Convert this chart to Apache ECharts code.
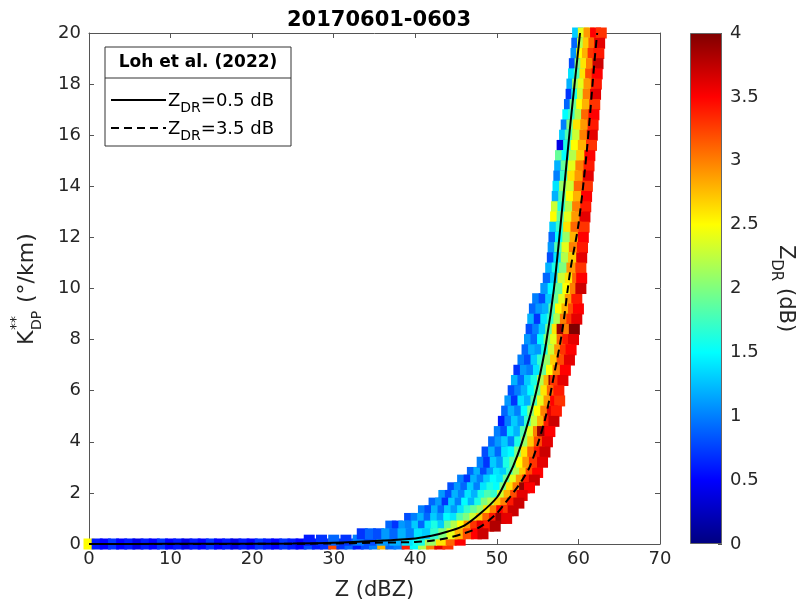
<!DOCTYPE html>
<html><head><meta charset="utf-8">
<script src="https://cdn.jsdelivr.net/npm/echarts@6/dist/echarts.min.js"></script>
<style>html,body{margin:0;padding:0;background:#fff}#c{width:799px;height:605px}</style>
</head><body><div id="c"></div>
<script>
// ---- data ----
const chartTitle = '20170601-0603';
const xTickStep = 10, xMax = 70;
const yTickStep = 2, yMax = 20;
const cbarMax = 4, cbarStep = 0.5;

// Loh et al. (2022) curves
const solidZ = [0,10,20,25,30,35,40,42,44,46,48,50,51,52,53,54,55,56,57,58,59,60.2];
const solidK = [0,0.005,0.01,0.02,0.05,0.12,0.22,0.32,0.49,0.72,1.2,1.82,2.4,3.05,3.9,4.95,6.2,7.8,10.0,13.1,16.4,20];
const dashedZ = [0,10,20,30,35,40,42,44,46,48,50,51,52,53,54,55,56,57,58,59,60,61,62,62.3];
const dashedK = [0,0,0.005,0.02,0.05,0.08,0.13,0.24,0.42,0.68,1.2,1.6,2.0,2.45,3.0,3.9,5.0,6.6,8.3,10.7,12.5,15.3,19.0,20];

// scatter rows: [Kdp, [[Z, Zdr], ...]]
const rowsTop = [
 [20.0,[[59.9,1.3],[60.6,2.4],[61.3,2.9],[62.1,3.5],[62.8,3.3]]],
 [19.6,[[59.8,0.9],[60.5,2.2],[61.2,2.7],[61.9,3.1],[62.6,3.6]]],
 [19.2,[[59.7,1.1],[60.4,2.5],[61.1,2.8],[61.8,3.3],[62.5,3.4]]],
 [18.8,[[59.5,0.8],[60.2,2.0],[60.9,2.6],[61.6,3.0],[62.4,3.7]]],
 [18.4,[[59.4,1.4],[60.1,1.8],[60.8,2.6],[61.5,3.2],[62.3,3.5]]],
 [18.0,[[59.2,1.2],[59.9,2.1],[60.6,2.4],[61.3,2.9],[62.2,3.4]]],
 [17.6,[[59.1,0.7],[59.8,1.6],[60.5,2.3],[61.2,3.0],[62.1,3.6]]],
 [17.2,[[58.9,0.9],[59.6,1.9],[60.4,2.5],[61.1,2.8],[62.0,3.3]]],
 [16.8,[[58.7,1.5],[59.4,1.7],[60.2,2.2],[61.0,3.1],[61.9,3.5]]],
 [16.4,[[58.5,1.0],[59.2,2.0],[60.0,2.6],[60.9,2.9],[61.8,3.4]]],
 [16.0,[[58.3,1.3],[59.0,1.8],[59.9,2.3],[60.8,3.0],[61.7,3.6]]],
 [15.6,[[58.0,0.4],[58.8,1.6],[59.7,2.5],[60.6,2.8],[61.6,3.3]]],
 [15.2,[[57.8,1.9],[58.6,1.5],[59.5,2.2],[60.4,2.7],[61.4,3.5]]],
 [14.8,[[57.7,1.2],[58.5,1.9],[59.4,2.4],[60.3,3.0],[61.3,3.4]]],
 [14.4,[[57.6,1.0],[58.4,1.7],[59.3,2.6],[60.2,2.9],[61.2,3.6]]],
 [14.0,[[57.5,1.4],[58.3,2.1],[59.2,2.3],[60.1,3.1],[61.1,3.3]]],
 [13.6,[[57.4,1.2],[58.2,1.8],[59.1,2.5],[60.0,2.8],[61.0,3.5]]],
 [13.2,[[57.3,2.3],[58.1,1.6],[59.0,2.2],[59.9,3.0],[60.9,3.4]]],
 [12.8,[[57.2,2.5],[58.0,1.9],[58.9,2.4],[59.8,2.9],[60.8,3.6]]],
 [12.4,[[57.1,1.3],[57.9,1.7],[58.8,2.6],[59.7,3.1],[60.7,3.3]]],
 [12.0,[[57.0,0.9],[57.8,1.5],[58.7,2.1],[59.6,2.8],[60.6,3.5]]],
 [11.6,[[56.9,1.1],[57.7,1.8],[58.6,2.4],[59.5,3.0],[60.5,3.4]]],
 [11.2,[[56.8,0.8],[57.6,1.4],[58.5,2.2],[59.4,2.7],[60.4,3.6]]],
 [10.8,[[56.6,1.2],[57.4,1.6],[58.3,2.0],[59.2,2.9],[60.3,3.3]]],
 [10.4,[[56.3,0.9],[57.2,1.3],[58.1,2.3],[59.0,2.6],[59.9,3.1],[60.4,3.5]]],
 [10.0,[[56.0,1.1],[56.9,1.5],[57.8,1.9],[58.7,2.5],[59.6,3.0],[60.3,3.7]]]
];
const rowsMid = [
 [9.6,[[55.0,1.0],[55.8,0.8],[56.6,1.3],[57.4,1.9],[58.2,2.4],[59.0,2.9],[59.8,3.4]]],
 [9.2,[[54.6,0.9],[55.4,1.1],[56.2,1.2],[57.0,1.8],[57.8,2.5],[58.6,2.8],[59.4,3.2],[60.0,3.5]]],
 [8.8,[[54.4,1.2],[55.2,0.7],[56.0,1.4],[56.8,1.7],[57.6,2.2],[58.4,3.0],[59.2,3.3],[59.8,3.6]]],
 [8.4,[[54.2,0.8],[55.0,1.0],[55.8,1.3],[56.6,1.9],[57.4,2.6],[58.0,3.9],[58.8,3.0],[59.5,4.0]]],
 [8.0,[[54.0,1.1],[54.8,0.9],[55.6,1.5],[56.4,2.0],[57.2,2.4],[58.0,3.1],[58.7,3.4],[59.4,3.6]]],
 [7.6,[[53.7,0.9],[54.5,1.2],[55.3,1.1],[56.1,1.6],[56.9,2.3],[57.7,2.9],[58.4,3.3],[59.1,3.5]]],
 [7.2,[[53.2,1.0],[54.0,0.8],[54.8,1.3],[55.6,1.7],[56.4,2.1],[57.2,2.7],[58.0,3.2],[58.9,3.6]]],
 [6.8,[[52.7,0.7],[53.5,1.1],[54.3,1.0],[55.1,1.4],[55.9,1.9],[56.7,2.5],[57.5,3.0],[58.4,3.5]]],
 [6.4,[[52.4,1.2],[53.2,0.9],[54.0,1.3],[54.8,1.6],[55.6,2.2],[56.4,2.8],[57.0,3.9],[57.2,3.3],[58.1,3.6]]],
 [6.0,[[52.0,0.8],[52.8,1.0],[53.6,1.2],[54.4,1.5],[55.2,1.9],[56.0,2.6],[56.8,3.1],[57.6,3.4]]],
 [5.6,[[51.6,1.1],[52.4,0.7],[53.2,1.4],[54.0,1.2],[54.8,1.8],[55.6,2.4],[56.4,2.9],[57.2,3.5],[57.7,3.3]]],
 [5.2,[[51.2,0.9],[52.0,1.2],[52.8,1.0],[53.6,1.5],[54.4,2.0],[55.2,2.5],[56.0,3.0],[56.8,3.6],[57.3,3.4]]],
 [4.8,[[50.8,0.6],[51.6,1.0],[52.4,1.3],[53.2,1.1],[54.0,1.7],[54.8,2.3],[55.6,2.8],[56.4,3.4],[57.0,3.7]]],
 [4.4,[[50.3,1.0],[51.1,0.8],[51.9,1.4],[52.7,1.2],[53.5,1.8],[54.3,2.4],[55.1,3.0],[55.6,3.9],[56.5,3.5]]],
 [4.0,[[49.6,0.9],[50.4,1.1],[51.2,1.3],[52.0,1.0],[52.8,1.6],[53.6,2.1],[54.4,2.7],[55.2,3.2],[56.2,3.6]]],
 [3.6,[[48.8,0.8],[49.6,1.2],[50.4,0.9],[51.2,1.4],[52.0,1.5],[52.8,2.0],[53.6,2.6],[54.4,3.1],[55.2,3.4],[55.9,3.7]]],
 [3.2,[[48.2,1.0],[49.0,0.7],[49.8,1.3],[50.6,1.1],[51.4,1.6],[52.2,1.9],[53.0,2.5],[53.8,2.9],[54.6,3.3],[55.6,3.6]]]
];
const rowsLow = [
 [2.8,[[47.0,0.9],[47.8,1.2],[48.6,0.8],[49.4,1.1],[50.2,1.4],[51.0,1.3],[51.8,1.7],[52.6,2.2],[53.4,2.7],[54.2,3.2],[55.0,3.5]]],
 [2.5,[[45.8,1.0],[46.6,0.7],[47.4,1.2],[48.2,1.0],[49.0,1.3],[49.8,1.5],[50.6,1.4],[51.4,1.9],[52.2,2.4],[53.0,2.9],[53.8,3.4],[54.6,3.7]]],
 [2.2,[[44.6,0.8],[45.4,1.1],[46.2,0.9],[47.0,1.3],[47.8,1.0],[48.6,1.4],[49.4,1.6],[50.2,1.5],[51.0,2.0],[51.8,2.6],[52.6,3.0],[53.4,3.9],[54.0,3.5]]],
 [1.9,[[43.5,1.1],[44.3,0.8],[45.1,1.2],[45.9,1.0],[46.7,1.4],[47.5,1.2],[48.3,1.6],[49.1,1.8],[49.9,1.7],[50.7,2.3],[51.5,2.8],[52.3,3.2],[53.1,3.6]]],
 [1.6,[[42.3,0.9],[43.1,1.1],[43.9,0.7],[44.7,1.3],[45.5,1.0],[46.3,1.5],[47.1,1.2],[47.9,1.6],[48.7,2.0],[49.5,2.2],[50.3,2.7],[51.1,3.0],[51.9,3.4],[52.7,3.7]]],
 [1.3,[[41.0,1.0],[41.8,0.8],[42.6,1.2],[43.4,0.9],[44.2,1.3],[45.0,1.1],[45.8,1.4],[46.6,1.7],[47.4,1.9],[48.2,2.1],[49.0,2.6],[49.8,3.0],[50.6,3.5],[51.4,3.3],[52.0,3.7]]],
 [1.0,[[39.3,0.8],[40.1,1.0],[40.9,1.2],[41.7,0.9],[42.5,1.3],[43.3,1.1],[44.1,1.5],[44.9,1.4],[45.7,1.8],[46.5,2.0],[47.3,2.3],[48.1,2.7],[48.9,3.1],[49.7,3.4],[50.5,3.9],[51.2,3.6]]],
 [0.7,[[37.0,0.9],[37.8,0.7],[38.6,1.1],[39.4,1.0],[40.2,1.3],[41.0,0.9],[41.8,1.4],[42.6,1.6],[43.4,1.3],[44.2,1.9],[45.0,2.2],[45.8,2.5],[46.6,2.9],[47.4,3.3],[48.2,3.6],[49.0,3.4],[49.8,3.8]]],
 [0.4,[[33.5,0.7],[34.5,0.9],[35.5,0.8],[36.5,1.1],[37.5,0.9],[38.5,1.2],[39.5,1.0],[40.5,1.4],[41.5,1.3],[42.5,1.7],[43.5,2.0],[44.5,2.4],[45.5,2.8],[46.5,3.2],[47.5,3.5],[48.3,3.7]]]
];
const rowsBase = [
 [0.0,[[0,2.5],[1,0.6],[2,0.5],[3,0.7],[4,0.5],[5,0.6],[6,0.4],[7,0.6],[8,0.5],[9,0.7],[10,0.5],[11,0.6],[12,0.4],[13,0.6],[14,0.5],[15,0.7],[16,0.5],[17,0.6],[18,0.4],[19,0.6],[20,0.5],[21,0.7],[22,0.6],[23,0.5],[24,0.7],[25,0.6],[26,0.5],[27,0.8],[28,0.6],[29,0.7],[30,3.2],[31,0.7],[32,0.9],[33,0.6],[34,0.8],[35,1.0],[36,2.8],[37,0.9],[38,1.0],[39,3.4],[40,1.5],[41,2.2],[42,3.0],[43,3.6],[44,3.3]]],
 [0.15,[[27,0.6],[28.5,0.7],[30,0.9],[31.5,0.7],[33,1.0],[34.5,0.8],[36,1.1],[37.5,1.2],[39,1.4],[40.5,1.6],[42,2.1],[43.2,2.6],[44.4,3.1],[45.5,3.5]]]
];

// ---- build ----
const jet = ['#00007F','#0000FF','#007FFF','#00FFFF','#7FFF7F','#FFFF00','#FF7F00','#FF0000','#7F0000'];
const scatterData = [];
[rowsBase, rowsLow, rowsMid, rowsTop].forEach(rows => rows.forEach(r => r[1].forEach(p => scatterData.push([p[0], r[0], p[1]]))));
const solidData = solidZ.map((z,i)=>[z, solidK[i]]);
const dashedData = dashedZ.map((z,i)=>[z, dashedK[i]]);

const FONT = 'DejaVu Sans';
const axisColor = '#555';
const labelColor = '#262626';
const TICKFS = 18;
function mainX(pos, showLabel){
  return {type:'value', gridIndex:0, min:0, max:xMax, interval:xTickStep, position:pos,
    axisLine:{show:true, onZero:false, lineStyle:{color:axisColor, width:1}},
    axisTick:{show:true, inside:true, length:5, lineStyle:{color:axisColor}},
    axisLabel:{show:showLabel, color:labelColor, fontSize:TICKFS, fontFamily:FONT, margin:6},
    splitLine:{show:false}};
}
function mainY(pos, showLabel){
  return {type:'value', gridIndex:0, min:0, max:yMax, interval:yTickStep, position:pos,
    axisLine:{show:true, onZero:false, lineStyle:{color:axisColor, width:1}},
    axisTick:{show:true, inside:true, length:5, lineStyle:{color:axisColor}},
    axisLabel:{show:showLabel, color:labelColor, fontSize:TICKFS, fontFamily:FONT, margin:8},
    splitLine:{show:false}};
}
const xb = mainX('bottom', true);
xb.name = 'Z (dBZ)'; xb.nameLocation='middle'; xb.nameGap=36;
xb.nameTextStyle = {color:labelColor, fontSize:21, fontFamily:FONT};

const subRich = {
  a:{fontSize:21, fontFamily:FONT, color:labelColor, lineHeight:34, verticalAlign:'middle'},
  s:{fontSize:15, fontFamily:FONT, color:labelColor, lineHeight:15, verticalAlign:'bottom'}
};
const legRich = {
  a:{fontSize:18, fontFamily:FONT, fill:'#000', color:'#000', lineHeight:28, verticalAlign:'middle'},
  s:{fontSize:14, fontFamily:FONT, fill:'#000', color:'#000', lineHeight:14, verticalAlign:'bottom'}
};
const txtAlign = {align:'left', verticalAlign:'middle', textAlign:'left', textVerticalAlign:'middle'};

const chart = echarts.init(document.getElementById('c'), null, {renderer:'canvas'});
chart.setOption({
  animation:false,
  backgroundColor:'#fff',
  title:{text:chartTitle, left:374, top:5, textAlign:'center',
    textStyle:{fontFamily:FONT, fontWeight:'bold', fontSize:21, color:'#000'}},
  grid:[
    {left:89, top:33, width:571, height:511, containLabel:false, outerBoundsMode:'none'},
    {left:690, top:33, width:32, height:511, containLabel:false, outerBoundsMode:'none'}
  ],
  xAxis:[ xb, mainX('top', false),
    {type:'category', gridIndex:1, data:['cb'], show:false, boundaryGap:true} ],
  yAxis:[ mainY('left', true), mainY('right', false),
    {type:'value', gridIndex:1, min:0, max:cbarMax, interval:cbarStep, position:'right',
     axisLine:{show:false}, axisTick:{show:true, inside:true, length:4, lineStyle:{color:axisColor}},
     axisLabel:{color:labelColor, fontSize:TICKFS, fontFamily:FONT, margin:8}, splitLine:{show:false},
     name:'{a|Z}{s|DR}{a| (dB)}', nameLocation:'middle', nameRotate:-90, nameGap:46,
     nameTextStyle:{rich:subRich}} ],
  visualMap:{show:false, type:'continuous', min:0, max:cbarMax, dimension:2, seriesIndex:0,
    inRange:{color:jet}},
  series:[
    {type:'scatter', xAxisIndex:0, yAxisIndex:0, data:scatterData, symbol:'rect', symbolSize:11,
     clip:false, z:2, itemStyle:{opacity:1}, silent:true},
    {type:'line', xAxisIndex:0, yAxisIndex:0, data:solidData, showSymbol:false, smooth:0.3, z:5,
     lineStyle:{color:'#000', width:2, type:'solid'}, clip:true, silent:true},
    {type:'line', xAxisIndex:0, yAxisIndex:0, data:dashedData, showSymbol:false, smooth:0.3, z:5,
     lineStyle:{color:'#000', width:2, type:[8,5]}, clip:true, silent:true},
    {type:'bar', xAxisIndex:2, yAxisIndex:2, data:[cbarMax], barWidth:'100%', silent:true,
     itemStyle:{color:new echarts.graphic.LinearGradient(0,1,0,0, jet.map((c,i)=>({offset:i/(jet.length-1), color:c}))),
       borderColor:'#666', borderWidth:1}}
  ],
  graphic:[
    {type:'rect', z:100, shape:{x:105, y:47, width:186, height:99}, style:{fill:'#fff', stroke:'#333', lineWidth:1}},
    {type:'line', z:101, shape:{x1:105, y1:78, x2:291, y2:78}, style:{stroke:'#333', lineWidth:1}},
    {type:'text', z:101, x:198, y:63, style:{text:'Loh et al. (2022)', fontFamily:FONT, fontWeight:'bold', fontSize:17,
       fill:'#000', align:'center', verticalAlign:'middle', textAlign:'center', textVerticalAlign:'middle'}},
    {type:'line', z:101, shape:{x1:111, y1:100, x2:166, y2:100}, style:{stroke:'#000', lineWidth:2}},
    {type:'line', z:101, shape:{x1:111, y1:128, x2:166, y2:128}, style:{stroke:'#000', lineWidth:2, lineDash:[8,5]}},
    {type:'text', z:101, x:168, y:101, style:Object.assign({text:'{a|Z}{s|DR}{a|=0.5 dB}', rich:legRich}, txtAlign)},
    {type:'text', z:101, x:168, y:129, style:Object.assign({text:'{a|Z}{s|DR}{a|=3.5 dB}', rich:legRich}, txtAlign)},
    {type:'group', x:27, y:288, rotation:Math.PI/2, children:[
       {type:'text', x:-57, y:0, style:Object.assign({text:'K', fontFamily:FONT, fontSize:22, fill:labelColor}, txtAlign)},
       {type:'text', x:-42, y:-11, style:Object.assign({text:'**', fontFamily:FONT, fontSize:14, fill:labelColor}, txtAlign)},
       {type:'text', x:-42, y:10, style:Object.assign({text:'DP', fontFamily:FONT, fontSize:14, fill:labelColor}, txtAlign)},
       {type:'text', x:-22, y:0, style:Object.assign({text:' (°/km)', fontFamily:FONT, fontSize:22, fill:labelColor}, txtAlign)}
    ]}
  ]
});
</script></body></html>
